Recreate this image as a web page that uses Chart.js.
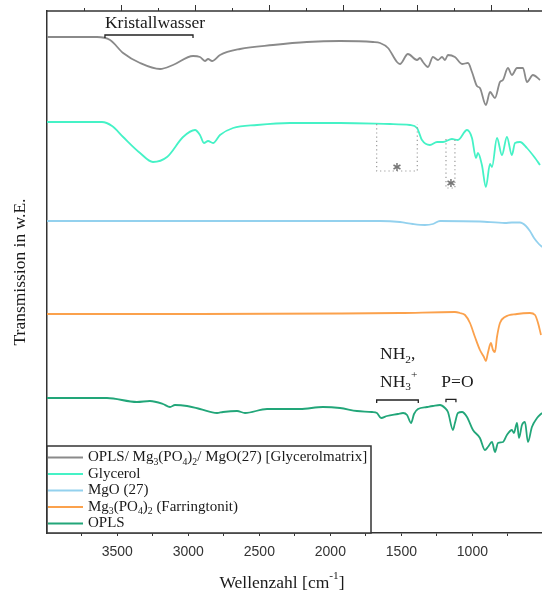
<!DOCTYPE html>
<html>
<head>
<meta charset="utf-8">
<script src="https://cdn.jsdelivr.net/npm/chart.js@4.4.0/dist/chart.umd.min.js"></script>
<style>
  html, body { margin: 0; padding: 0; background: #fff; }
  #wrap { width: 542px; height: 594px; }
</style>
</head>
<body>
<div id="wrap"><canvas id="ftir-chart" width="542" height="594"></canvas></div>
<script>
// FTIR spectra, wavenumber [cm-1] vs. transmission (arbitrary units, curves stacked)
const matrixWn = [3995, 3643, 3551, 3459, 3340, 3199, 3108, 2967, 2918, 2883, 2861, 2833, 2777, 2636, 2404, 2165, 1932, 1700, 1650, 1594, 1531, 1510, 1454, 1390, 1369, 1348, 1313, 1278, 1242, 1214, 1193, 1172, 1123, 1073, 1031, 1003, 968, 947, 905, 876, 841, 806, 785, 750, 722, 686, 644, 616, 574, 524];
const matrixT = [49.6, 49.6, 49.3, 48.0, 47.0, 46.4, 46.8, 47.7, 47.6, 47.2, 47.4, 47.2, 47.8, 48.4, 48.8, 49.1, 49.2, 49.1, 49.0, 48.5, 47.1, 46.9, 47.9, 47.3, 47.5, 47.1, 46.6, 47.6, 47.3, 47.6, 47.3, 47.8, 47.6, 46.9, 47.0, 46.1, 44.7, 44.5, 42.8, 44.1, 43.5, 45.1, 45.3, 46.5, 45.8, 46.5, 46.5, 45.1, 45.8, 45.3];

const glycerolWn = [3995, 3608, 3537, 3459, 3340, 3249, 3150, 3037, 2953, 2918, 2890, 2861, 2826, 2777, 2685, 2516, 2284, 1932, 1580, 1440, 1390, 1355, 1299, 1249, 1207, 1144, 1102, 1038, 1003, 975, 961, 933, 905, 876, 862, 827, 792, 757, 722, 700, 665, 616, 559, 524];
const glycerolT = [41.1, 41.1, 40.7, 39.6, 38.0, 37.1, 37.6, 39.6, 40.3, 39.8, 39.0, 39.2, 39.0, 39.8, 40.5, 40.8, 41.0, 41.0, 40.9, 40.8, 40.5, 39.3, 38.8, 39.1, 39.1, 39.4, 39.3, 40.3, 39.5, 37.5, 38.0, 36.8, 34.6, 36.9, 36.6, 39.5, 37.8, 39.6, 37.8, 39.0, 39.1, 38.5, 37.5, 36.8];

const mgoWn = [3995, 2918, 1932, 1650, 1510, 1419, 1334, 1278, 1228, 947, 771, 722, 665, 623, 595, 566, 538, 510];
const mgoT = [31.2, 31.2, 31.2, 31.2, 31.1, 30.9, 30.8, 30.9, 31.2, 31.15, 31.0, 31.05, 31.05, 30.7, 30.2, 29.5, 29.0, 28.6];

const farringWn = [3995, 2918, 1932, 1510, 1123, 1088, 1052, 1017, 982, 947, 919, 905, 891, 870, 855, 841, 827, 806, 771, 686, 595, 559, 538, 517];
const farringT = [21.9, 21.9, 21.95, 22.0, 22.1, 22.0, 21.8, 21.0, 19.6, 18.3, 17.6, 17.2, 18.0, 19.0, 18.3, 18.1, 19.6, 21.0, 21.6, 21.9, 22.0, 21.8, 21.0, 19.8];

const oplsWn = [3995, 3573, 3362, 3270, 3178, 3129, 3094, 3009, 2918, 2798, 2756, 2657, 2601, 2446, 2214, 2052, 1932, 1813, 1707, 1672, 1643, 1601, 1524, 1488, 1460, 1432, 1411, 1383, 1320, 1278, 1228, 1193, 1172, 1137, 1123, 1102, 1073, 1038, 996, 947, 912, 891, 862, 841, 820, 785, 757, 722, 708, 686, 672, 651, 630, 609, 581, 545, 510];
const oplsT = [13.5, 13.5, 13.1, 13.2, 12.9, 12.6, 12.8, 12.7, 12.4, 12.0, 12.1, 12.2, 12.0, 12.4, 12.4, 12.6, 12.5, 12.2, 12.1, 12.0, 11.5, 11.7, 11.9, 12.0, 11.8, 11.0, 11.9, 12.4, 12.6, 12.7, 12.8, 12.5, 12.1, 10.3, 11.0, 12.0, 12.1, 11.6, 10.3, 9.5, 8.3, 8.6, 9.1, 8.1, 9.0, 9.1, 9.8, 10.3, 10.0, 11.0, 9.5, 10.8, 11.1, 9.1, 10.6, 11.5, 12.0];

const seriesLabels = [
  'OPLS/ Mg_{3}(PO_{4})_{2}/ MgO(27) [Glycerolmatrix]',
  'Glycerol',
  'MgO (27)',
  'Mg_{3}(PO_{4})_{2} (Farringtonit)',
  'OPLS'
];
const seriesColors = ['#8a8a8a', '#45f2c6', '#93d1ee', '#fba14c', '#22a679'];

// x ticks every 250 cm-1, labels on the 500s
const tickValues = [750, 1000, 1250, 1500, 1750, 2000, 2250, 2500, 2750, 3000, 3250, 3500, 3750];

// annotations (data coordinates)
const noteTexts = [
  { text: 'Kristallwasser', x: 3587, y: 50.95 },
  { text: 'NH_{2},', x: 1650, y: 17.85 },
  { text: 'NH_{3}^{+}', x: 1650, y: 15.1 },
  { text: 'P=O', x: 1219, y: 15.1 }
];
const noteBrackets = [
  { from: 3587, to: 2967, y: 49.8 },
  { from: 1674, to: 1381, y: 13.3 },
  { from: 1186, to: 1116, y: 13.37 }
];
const starBoxes = [
  { from: 1674, to: 1388, top: 40.9, bottom: 36.2, starX: 1531, starY: 36.6 },
  { from: 1186, to: 1123, top: 39.4, bottom: 34.5, starX: 1151, starY: 35.0 }
];

const SERIF = "'Liberation Serif', 'Times New Roman', serif";
const SANS = "'Liberation Sans', Arial, sans-serif";

const toPts = (xs, ys) => xs.map((x, i) => ({ x: x, y: ys[i] }));

// "Mg_{3}(PO_{4})_{2}" -> pieces with sub / sup
function parseRich(str) {
  const parts = [];
  const re = /([_^])\{([^}]*)\}/g;
  let last = 0, m;
  while ((m = re.exec(str)) !== null) {
    if (m.index > last) parts.push({ t: str.slice(last, m.index), k: '' });
    parts.push({ t: m[2], k: m[1] === '_' ? 'sub' : 'sup' });
    last = re.lastIndex;
  }
  if (last < str.length) parts.push({ t: str.slice(last), k: '' });
  return parts;
}

function richWidth(ctx, str, size) {
  let w = 0;
  parseRich(str).forEach(p => {
    ctx.font = (p.k ? size * 0.65 : size) + 'px ' + SERIF;
    w += ctx.measureText(p.t).width;
  });
  return w;
}

function drawRich(ctx, str, x, y, size) {
  ctx.textBaseline = 'middle';
  ctx.textAlign = 'left';
  parseRich(str).forEach(p => {
    let dy = 0;
    if (p.k === 'sub') dy = size * 0.3;
    if (p.k === 'sup') dy = -size * 0.38;
    ctx.font = (p.k ? size * 0.65 : size) + 'px ' + SERIF;
    ctx.fillText(p.t, x, y + dy);
    x += ctx.measureText(p.t).width;
  });
  return x;
}

const decorPlugin = {
  id: 'decor',
  afterDraw(chart) {
    const { ctx, chartArea: a, scales } = chart;
    const xs = scales.x, ys = scales.y, xt = scales.xTop;
    ctx.save();

    // top frame with mirrored ticks
    ctx.strokeStyle = '#333';
    ctx.lineWidth = 1.5;
    ctx.beginPath();
    ctx.moveTo(a.left, a.top);
    ctx.lineTo(a.right, a.top);
    ctx.stroke();
    ctx.lineWidth = 1;
    tickValues.forEach(v => {
      const px = Math.round(xt.getPixelForValue(v)) + 0.5;
      const len = v % 500 === 0 ? 6 : 3;
      ctx.beginPath();
      ctx.moveTo(px, a.top);
      ctx.lineTo(px, a.top - len);
      ctx.stroke();
    });

    // annotation texts
    ctx.fillStyle = '#1a1a1a';
    noteTexts.forEach(n => {
      drawRich(ctx, n.text, xs.getPixelForValue(n.x), ys.getPixelForValue(n.y), 17.5);
    });

    // brackets
    ctx.strokeStyle = '#222';
    ctx.lineWidth = 1.3;
    noteBrackets.forEach(b => {
      const x1 = xs.getPixelForValue(b.from), x2 = xs.getPixelForValue(b.to);
      const py = ys.getPixelForValue(b.y);
      ctx.beginPath();
      ctx.moveTo(x1, py + 3);
      ctx.lineTo(x1, py);
      ctx.lineTo(x2, py);
      ctx.lineTo(x2, py + 3);
      ctx.stroke();
    });

    // dotted boxes with asterisks
    starBoxes.forEach(b => {
      const x1 = xs.getPixelForValue(b.from), x2 = xs.getPixelForValue(b.to);
      const y1 = ys.getPixelForValue(b.top), y2 = ys.getPixelForValue(b.bottom);
      ctx.strokeStyle = '#9a9a9a';
      ctx.lineWidth = 1.2;
      ctx.setLineDash([1.2, 3]);
      ctx.beginPath();
      ctx.moveTo(x1, y1);
      ctx.lineTo(x1, y2);
      ctx.lineTo(x2, y2);
      ctx.lineTo(x2, y1);
      ctx.stroke();
      ctx.setLineDash([]);
      const cx = xs.getPixelForValue(b.starX), cy = ys.getPixelForValue(b.starY);
      ctx.strokeStyle = '#777';
      ctx.lineWidth = 1.5;
      for (let k = 0; k < 3; k++) {
        const ang = Math.PI / 2 + k * Math.PI / 3;
        ctx.beginPath();
        ctx.moveTo(cx - 4 * Math.cos(ang), cy - 4 * Math.sin(ang));
        ctx.lineTo(cx + 4 * Math.cos(ang), cy + 4 * Math.sin(ang));
        ctx.stroke();
      }
    });

    // legend box, bottom left inside the plot
    const boxW = 324, boxH = 87;
    const bx = a.left, by = a.bottom - boxH;
    ctx.fillStyle = '#fff';
    ctx.fillRect(bx, by, boxW, boxH);
    ctx.strokeStyle = '#333';
    ctx.lineWidth = 1.5;
    ctx.strokeRect(bx, by, boxW, boxH);
    chart.data.datasets.forEach((ds, i) => {
      const ry = by + 11.5 + i * 16.5;
      ctx.strokeStyle = ds.borderColor;
      ctx.lineWidth = 2;
      ctx.beginPath();
      ctx.moveTo(bx + 1, ry);
      ctx.lineTo(bx + 36, ry);
      ctx.stroke();
      ctx.fillStyle = '#1a1a1a';
      drawRich(ctx, ds.label, bx + 41, ry, 15);
    });

    // x axis title with superscript
    const title = 'Wellenzahl [cm^{-1}]';
    const tw = richWidth(ctx, title, 17.5);
    ctx.fillStyle = '#1a1a1a';
    drawRich(ctx, title, 282 - tw / 2, 583, 17.5);

    ctx.restore();
  }
};

new Chart(document.getElementById('ftir-chart'), {
  type: 'line',
  data: {
    datasets: [
      { label: seriesLabels[0], data: toPts(matrixWn, matrixT), borderColor: seriesColors[0] },
      { label: seriesLabels[1], data: toPts(glycerolWn, glycerolT), borderColor: seriesColors[1] },
      { label: seriesLabels[2], data: toPts(mgoWn, mgoT), borderColor: seriesColors[2] },
      { label: seriesLabels[3], data: toPts(farringWn, farringT), borderColor: seriesColors[3] },
      { label: seriesLabels[4], data: toPts(oplsWn, oplsT), borderColor: seriesColors[4] }
    ]
  },
  options: {
    responsive: false,
    animation: false,
    layout: { padding: { top: 11, right: 0, bottom: 0, left: 0 } },
    elements: {
      point: { radius: 0 },
      line: { borderWidth: 1.8, cubicInterpolationMode: 'monotone', fill: false }
    },
    plugins: {
      legend: { display: false },
      tooltip: { enabled: false }
    },
    scales: {
      x: {
        type: 'linear',
        reverse: true,
        min: 510,
        max: 3995,
        afterBuildTicks: s => { s.ticks = tickValues.map(v => ({ value: v })); },
        afterFit: s => { s.height = 61; },
        ticks: {
          autoSkip: false,
          maxRotation: 0,
          padding: 8,
          color: '#333',
          font: { family: SANS, size: 14 },
          callback: v => (v % 500 === 0 ? String(v) : '')
        },
        grid: { drawOnChartArea: false, tickLength: 3, color: '#333', lineWidth: 1 },
        border: { color: '#333', width: 1.5 }
      },
      xTop: {
        type: 'linear',
        position: 'top',
        reverse: true,
        min: 653,
        max: 4000,
        display: false
      },
      y: {
        min: 0,
        max: 52.2,
        afterFit: s => { s.width = 47; },
        ticks: { display: false },
        grid: { drawOnChartArea: false, drawTicks: false },
        border: { color: '#333', width: 1.5 },
        title: {
          display: true,
          text: 'Transmission in w.E.',
          color: '#1a1a1a',
          font: { family: SERIF, size: 17.5 },
          padding: { top: 10, bottom: 0 }
        }
      }
    }
  },
  plugins: [decorPlugin]
});
</script>
</body>
</html>
